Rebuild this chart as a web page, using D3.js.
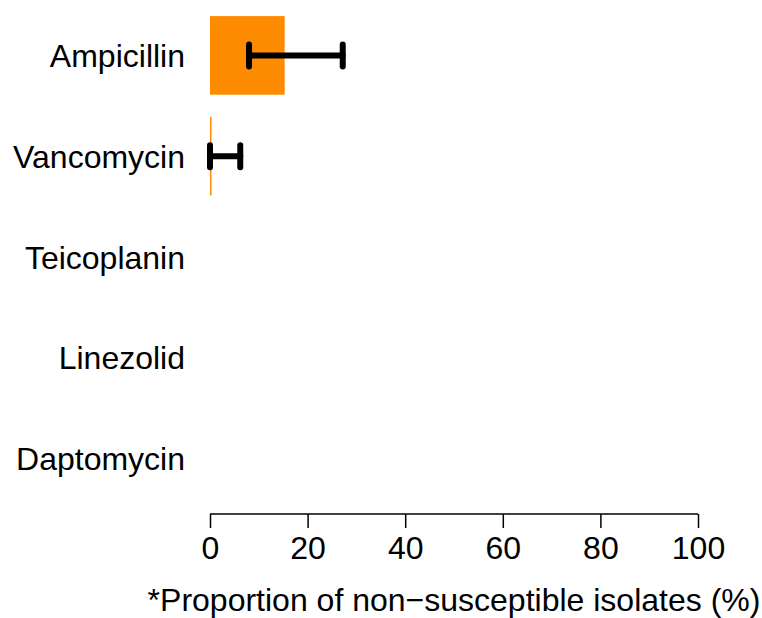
<!DOCTYPE html>
<html>
<head>
<meta charset="utf-8">
<script src="https://cdn.jsdelivr.net/npm/d3@7"></script>
<style>
  body { margin: 0; background: #fff; }
  text { font-family: "Liberation Sans", Arial, sans-serif; fill: #000; }
</style>
</head>
<body>
<svg width="762" height="618"></svg>
<script>
// data
var drugs = ["Ampicillin", "Vancomycin", "Teicoplanin", "Linezolid", "Daptomycin"];
var pct = [15.3, 0.3, 0, 0, 0];
var lower = [8.0, 0, null, null, null];
var upper = [27.2, 6.2, null, null, null];
var ticks = [0, 20, 40, 60, 80, 100];
var xTitle = "*Proportion of non\u2212susceptible isolates (%)";

var svg = d3.select("svg"),
    margin = {top: 5, right: 64, bottom: 109, left: 210},
    width = +svg.attr("width") - margin.left - margin.right,
    height = +svg.attr("height") - margin.top - margin.bottom;

var x = d3.scaleLinear().domain([0, 100]).range([0, width]);
var y = d3.scaleBand().domain(drugs).range([0, height])
    .paddingInner(0.22).paddingOuter(0.11);

var g = svg.append("g")
    .attr("transform", "translate(" + margin.left + "," + margin.top + ")");

var rows = drugs.map(function(d, i) {
  return {name: d, v: pct[i], lo: lower[i], hi: upper[i]};
});

// bars
g.selectAll("rect.bar")
  .data(rows.filter(function(d) { return d.v > 0; }))
  .enter().append("rect")
    .attr("class", "bar")
    .attr("x", x(0))
    .attr("y", function(d) { return y(d.name); })
    .attr("width", function(d) { return Math.max(1.5, x(d.v) - x(0)); })
    .attr("height", y.bandwidth())
    .attr("fill", "#ff8c00");

// error bars
var eb = g.selectAll("g.err")
  .data(rows.filter(function(d) { return d.hi != null; }))
  .enter().append("g")
    .attr("class", "err")
    .attr("stroke", "#000")
    .attr("stroke-width", 6)
    .attr("stroke-linecap", "round");

eb.append("line")
    .attr("x1", function(d) { return x(d.lo); })
    .attr("x2", function(d) { return x(d.hi); })
    .attr("y1", function(d) { return y(d.name) + y.bandwidth() / 2; })
    .attr("y2", function(d) { return y(d.name) + y.bandwidth() / 2; });

["lo", "hi"].forEach(function(k) {
  eb.append("line")
      .attr("x1", function(d) { return x(d[k]); })
      .attr("x2", function(d) { return x(d[k]); })
      .attr("y1", function(d) { return y(d.name) + y.bandwidth() / 2 - 11; })
      .attr("y2", function(d) { return y(d.name) + y.bandwidth() / 2 + 11; });
});

// category labels
g.selectAll("text.cat")
  .data(drugs)
  .enter().append("text")
    .attr("class", "cat")
    .attr("x", -25)
    .attr("y", function(d) { return y(d) + y.bandwidth() / 2; })
    .attr("dy", "0.36em")
    .attr("text-anchor", "end")
    .style("font-size", "32px")
    .text(function(d) { return d; });

// x axis
var axis = g.append("g")
    .attr("transform", "translate(0," + (height + 5) + ")")
    .call(d3.axisBottom(x).tickValues(ticks).tickSize(14).tickPadding(8)
      .tickFormat(d3.format("d")));
axis.select(".domain").attr("stroke-width", 1.5)
    .attr("d", "M0,0H" + width);
axis.selectAll(".tick line").attr("stroke-width", 1.5);
axis.selectAll(".tick text").style("font-size", "32px")
    .style("font-family", "'Liberation Sans', Arial, sans-serif");

g.append("text")
    .attr("x", width / 2)
    .attr("y", height + 102)
    .attr("text-anchor", "middle")
    .style("font-size", "32px")
    .text(xTitle);
</script>
</body>
</html>
